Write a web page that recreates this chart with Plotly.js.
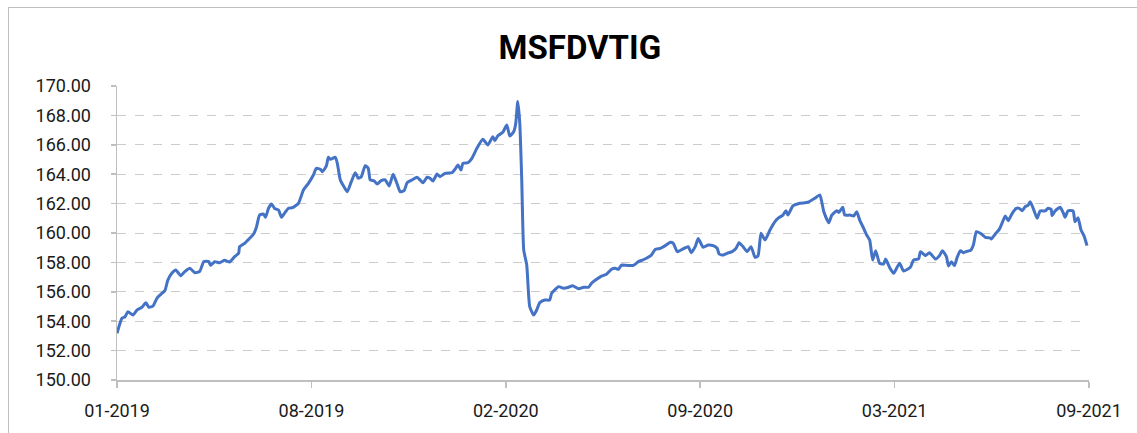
<!DOCTYPE html>
<html>
<head>
<meta charset="utf-8">
<script src="https://cdn.plot.ly/plotly-3.0.1.min.js"></script>
<style>
  html, body { margin: 0; padding: 0; background: #ffffff; overflow: hidden; }
  #chart { position: absolute; left: 0; top: 0; width: 1137px; height: 433px; }
  #frame { position: absolute; left: 8px; top: 7px; width: 1300px; height: 600px;
           border-top: 1px solid #bfbfbf; border-left: 1px solid #bfbfbf; pointer-events: none; }
</style>
</head>
<body>
<div id="chart"></div>
<div id="frame"></div>
<script>
// Series: MSFDVTIG index level, observations by days elapsed since the first observation
const seriesName = "MSFDVTIG";
const startDate = "2019-01-25";
const dayOffsets = [
  0, 5, 8, 11, 16, 20, 25, 29, 32, 36, 40, 44, 48, 51, 55, 59, 64, 68, 73, 78,
  83, 87, 92, 94, 98, 103, 108, 113, 118, 122, 123, 128, 133, 137, 140, 143, 147, 149, 152, 155,
  158, 162, 165, 168, 172, 176, 182, 187, 192, 197, 200, 204, 206, 210, 212, 214, 219, 221, 224, 228,
  231, 235, 239, 242, 245, 249, 252, 254, 258, 261, 265, 269, 273, 277, 281, 284, 288, 291, 296, 301,
  304, 307, 311, 314, 317, 321, 324, 329, 336, 339, 342, 345, 347, 352, 356, 361, 367, 372, 377, 379,
  382, 387, 391, 394, 398, 400, 402, 404, 406, 408, 411, 414, 418, 421, 424, 429, 434, 436, 443, 448,
  453, 457, 463, 468, 473, 476, 480, 486, 491, 496, 500, 503, 506, 511, 518, 523, 527, 531, 536, 540,
  545, 550, 555, 558, 562, 567, 573, 576, 580, 583, 588, 593, 598, 602, 604, 608, 612, 617, 621, 624,
  628, 632, 636, 640, 643, 646, 650, 655, 660, 663, 668, 671, 673, 678, 685, 693, 700, 705, 709, 714,
  717, 722, 724, 728, 730, 735, 739, 742, 745, 749, 752, 755, 758, 761, 765, 769, 771, 775, 779, 785,
  789, 796, 799, 804, 806, 811, 815, 821, 825, 828, 832, 834, 837, 840, 843, 846, 849, 853, 856, 859,
  862, 866, 871, 876, 877, 881, 885, 888, 891, 894, 898, 902, 905, 908, 911, 914, 916, 919, 923, 926,
  931, 934, 937, 938, 941, 946, 949, 951, 954, 959, 961, 964, 967, 970, 973
];
const values = [
  153.18, 154.20, 154.30, 154.65, 154.42, 154.76, 154.95, 155.26, 154.95, 155.03, 155.56, 155.83, 156.08, 156.80, 157.26, 157.48, 157.10, 157.37, 157.60, 157.30,
  157.39, 158.05, 158.05, 157.80, 158.05, 157.98, 158.14, 158.03, 158.39, 158.62, 159.07, 159.30, 159.64, 159.93, 160.43, 161.22, 161.29, 161.07, 161.68, 161.97,
  161.68, 161.56, 161.07, 161.34, 161.68, 161.72, 162.02, 162.93, 163.38, 163.95, 164.40, 164.33, 164.17, 164.56, 165.15, 165.01, 165.15, 164.74, 163.61, 163.11,
  162.81, 163.49, 164.10, 163.72, 163.83, 164.58, 164.40, 163.61, 163.54, 163.33, 163.56, 163.61, 163.20, 163.99, 163.33, 162.81, 162.88, 163.42, 163.61, 163.79,
  163.61, 163.42, 163.79, 163.72, 163.54, 164.01, 163.83, 164.06, 164.10, 164.33, 164.63, 164.29, 164.74, 164.78, 165.08, 165.76, 166.37, 165.99, 166.55, 166.28,
  166.62, 166.85, 167.35, 166.60, 166.90, 167.46, 168.95, 167.50, 163.61, 158.84, 157.82, 154.99, 154.42, 154.76, 155.26, 155.44, 155.44, 155.90, 156.35, 156.24,
  156.31, 156.42, 156.21, 156.31, 156.31, 156.58, 156.80, 157.07, 157.19, 157.53, 157.60, 157.53, 157.82, 157.80, 157.80, 158.05, 158.16, 158.28, 158.50, 158.89,
  158.96, 159.14, 159.37, 159.30, 158.73, 158.89, 159.07, 158.66, 159.07, 159.62, 159.03, 159.18, 159.14, 158.96, 158.57, 158.50, 158.62, 158.73, 158.96, 159.34,
  159.07, 158.73, 159.07, 158.35, 158.44, 159.98, 159.52, 160.20, 160.77, 161.00, 161.22, 161.52, 161.22, 161.84, 162.02, 162.09, 162.36, 162.59, 161.45, 160.70,
  161.22, 161.52, 161.40, 161.75, 161.22, 161.22, 161.16, 161.45, 160.88, 160.31, 159.86, 159.52, 158.16, 158.80, 157.94, 157.89, 158.23, 157.66, 157.26, 157.94,
  157.41, 157.69, 158.16, 158.23, 158.73, 158.46, 158.66, 158.23, 158.46, 158.80, 158.39, 157.76, 158.05, 157.78, 158.39, 158.80, 158.66, 158.77, 158.80, 159.18,
  160.09, 159.98, 159.71, 159.66, 159.59, 159.93, 160.25, 160.70, 161.16, 160.84, 161.34, 161.68, 161.68, 161.52, 161.79, 161.90, 162.13, 161.68, 161.00, 161.50,
  161.50, 161.68, 161.61, 161.18, 161.50, 161.75, 161.40, 161.07, 161.52, 161.50, 160.77, 161.04, 160.20, 159.80, 159.14
];
const yTickValues = [150, 152, 154, 156, 158, 160, 162, 164, 166, 168, 170];
const axisSpanDays = 975;
const tickStepDays = 195;

const DAY = 86400000;
const t0 = Date.parse(startDate + "T00:00:00Z");
const toIso = ms => new Date(ms).toISOString().slice(0, 10);
const dates = dayOffsets.map(d => toIso(t0 + d * DAY));

const fontFam = "Roboto, 'Open Sans', sans-serif";

const trace = {
  type: "scatter",
  mode: "lines",
  x: dates,
  y: values,
  name: seriesName,
  line: { color: "#4472C4", width: 3, shape: "spline", smoothing: 0.5 },
  hoverinfo: "skip"
};

const layout = {
  width: 1137,
  height: 433,
  margin: { l: 117, r: 48, t: 86, b: 53 },
  paper_bgcolor: "#ffffff",
  plot_bgcolor: "#ffffff",
  showlegend: false,
  title: {
    text: "<b>" + seriesName + "</b>",
    font: { family: fontFam, size: 33, color: "#000000" },
    xref: "container", yref: "container",
    x: 0.51, xanchor: "center",
    y: 0.89, yanchor: "middle"
  },
  xaxis: {
    type: "date",
    range: [toIso(t0), toIso(t0 + axisSpanDays * DAY)],
    tick0: startDate,
    dtick: tickStepDays * DAY,
    tickformat: "%m-%Y",
    showgrid: false,
    zeroline: false,
    showline: true,
    linecolor: "#bfbfbf",
    linewidth: 1.5,
    ticks: "outside",
    ticklen: 6,
    tickcolor: "#bfbfbf",
    tickwidth: 1.5,
    ticklabelstandoff: 8,
    tickfont: { family: fontFam, size: 18, color: "#1a1a1a" },
    fixedrange: true
  },
  yaxis: {
    range: [150, 170],
    tickvals: yTickValues,
    tickformat: ".2f",
    showgrid: true,
    gridcolor: "#cccccc",
    gridwidth: 1,
    griddash: "dash",
    zeroline: false,
    showline: true,
    linecolor: "#bfbfbf",
    linewidth: 1.5,
    ticks: "outside",
    ticklen: 5,
    tickcolor: "#bfbfbf",
    tickwidth: 1.5,
    ticklabelstandoff: 16,
    tickfont: { family: fontFam, size: 18, color: "#1a1a1a" },
    fixedrange: true
  }
};

Plotly.newPlot("chart", [trace], layout, { displayModeBar: false, staticPlot: true });
</script>
</body>
</html>
